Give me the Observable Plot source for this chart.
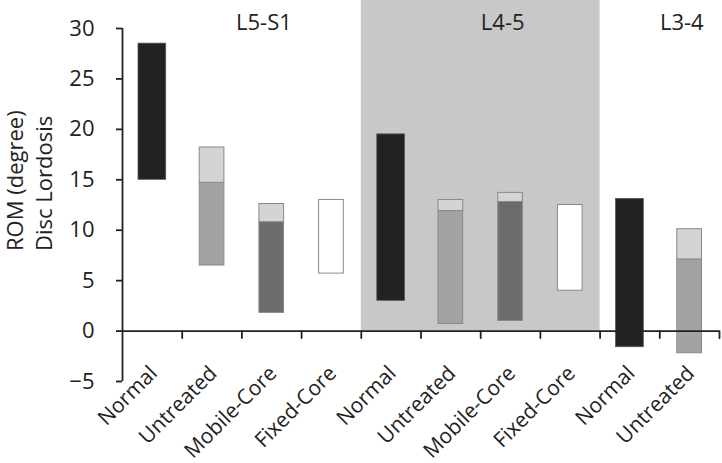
<!DOCTYPE html>
<html>
<head>
<meta charset="utf-8">
<script src="https://cdn.jsdelivr.net/npm/d3@7"></script>
<script src="https://cdn.jsdelivr.net/npm/@observablehq/plot@0.6"></script>
<style>
  html, body { margin: 0; padding: 0; background: white; }
</style>
</head>
<body>
<div id="chart"></div>
<script>
const groups = ["L5-S1","L5-S1","L5-S1","L5-S1","L4-5","L4-5","L4-5","L4-5","L3-4","L3-4"];
const categories = ["Normal","Untreated","Mobile-Core","Fixed-Core","Normal","Untreated","Mobile-Core","Fixed-Core","Normal","Untreated"];
const low  = [15.0, 6.5, 1.8, 5.7, 3.0, 0.7, 1.0, 4.0, -1.6, -2.2];
const mid  = [null, 14.7, 10.8, null, null, 11.9, 12.8, null, null, 7.1];
const high = [28.5, 18.2, 12.6, 13.0, 19.5, 13.0, 13.7, 12.5, 13.1, 10.1];
const yTicks = [-5, 0, 5, 10, 15, 20, 25, 30];
const shadedGroup = "L4-5";

const fills = {"Normal": "#222222", "Untreated": "#a2a2a2", "Mobile-Core": "#6c6c6c", "Fixed-Core": "#ffffff"};
const upperFill = "#d4d4d4";

const rows = categories.map((c, i) => ({i, group: groups[i], cat: c, low: low[i], mid: mid[i], high: high[i]}));
const lower = rows.map(d => ({...d, top: d.mid ?? d.high}));
const upper = rows.filter(d => d.mid != null);

const groupNames = [...new Set(groups)];
const groupInfo = groupNames.map(g => {
  const idx = rows.filter(d => d.group === g).map(d => d.i);
  return {group: g, start: d3.min(idx), end: d3.max(idx) + 1, mid: (d3.min(idx) + d3.max(idx) + 1) / 2};
});
const shaded = groupInfo.filter(d => d.group === shadedGroup);
const boundaries = d3.range(1, categories.length + 1);

const tickShape = {draw(context, l) { context.moveTo(0, 0); context.lineTo(0, -l); }};

const chart = Plot.plot({
  width: 722,
  height: 463,
  marginLeft: 122,
  marginRight: 3,
  marginTop: 28,
  marginBottom: 82,
  x: {domain: [0, categories.length], axis: null},
  y: {domain: [-5, 30], axis: null},
  style: {fontFamily: "'Open Sans', sans-serif", fontSize: "21px", color: "#222", background: "white"},
  marks: [
    Plot.rect(shaded, {x1: "start", x2: "end", y1: 0, y2: 30, insetTop: -28, fill: "#c8c8c8"}),
    Plot.rectY(lower.filter(d => d.cat === "Normal"), {x1: "i", x2: d => d.i + 1, y1: "low", y2: "top", fill: d => fills[d.cat], stroke: "#555", strokeWidth: 0.8, insetLeft: 16, insetRight: 16}),
    Plot.rectY(lower.filter(d => d.cat !== "Normal"), {x1: "i", x2: d => d.i + 1, y1: "low", y2: "top", fill: d => fills[d.cat], stroke: "#8a8a8a", strokeWidth: 1, insetLeft: 17.5, insetRight: 17.5}),
    Plot.rectY(upper, {x1: "i", x2: d => d.i + 1, y1: "mid", y2: "high", fill: upperFill, stroke: "#8a8a8a", strokeWidth: 1, insetLeft: 17.5, insetRight: 17.5}),
    Plot.ruleY([0], {stroke: "#222", strokeWidth: 1.8}),
    Plot.ruleX([0], {stroke: "#222", strokeWidth: 1.8}),
    Plot.vector(boundaries, {x: d => d, y: 0, length: 7, rotate: 180, anchor: "start", shape: tickShape, stroke: "#222", strokeWidth: 1.8}),
    Plot.axisY(yTicks, {tickSize: 6, tickPadding: 22, fontSize: 22, stroke: "#222", strokeWidth: 1.8, label: null}),
    Plot.text(rows, {x: d => d.i + 0.5, frameAnchor: "bottom", text: "cat", rotate: -45, textAnchor: "end", lineAnchor: "top", dx: -4.5, dy: -17.5, fontSize: 21, fill: "#222"}),
    Plot.text(groupInfo, {x: "mid", y: 30, text: "group", dx: 22, lineAnchor: "bottom", dy: 1, fontSize: 22, fill: "#222"}),
    Plot.text(["ROM (degree)\nDisc Lordosis"], {frameAnchor: "left", text: d => d, rotate: -90, dx: -94, dy: 46, lineHeight: 1.3, fontSize: 22, fill: "#222"})
  ]
});
document.getElementById("chart").appendChild(chart);
</script>
</body>
</html>
